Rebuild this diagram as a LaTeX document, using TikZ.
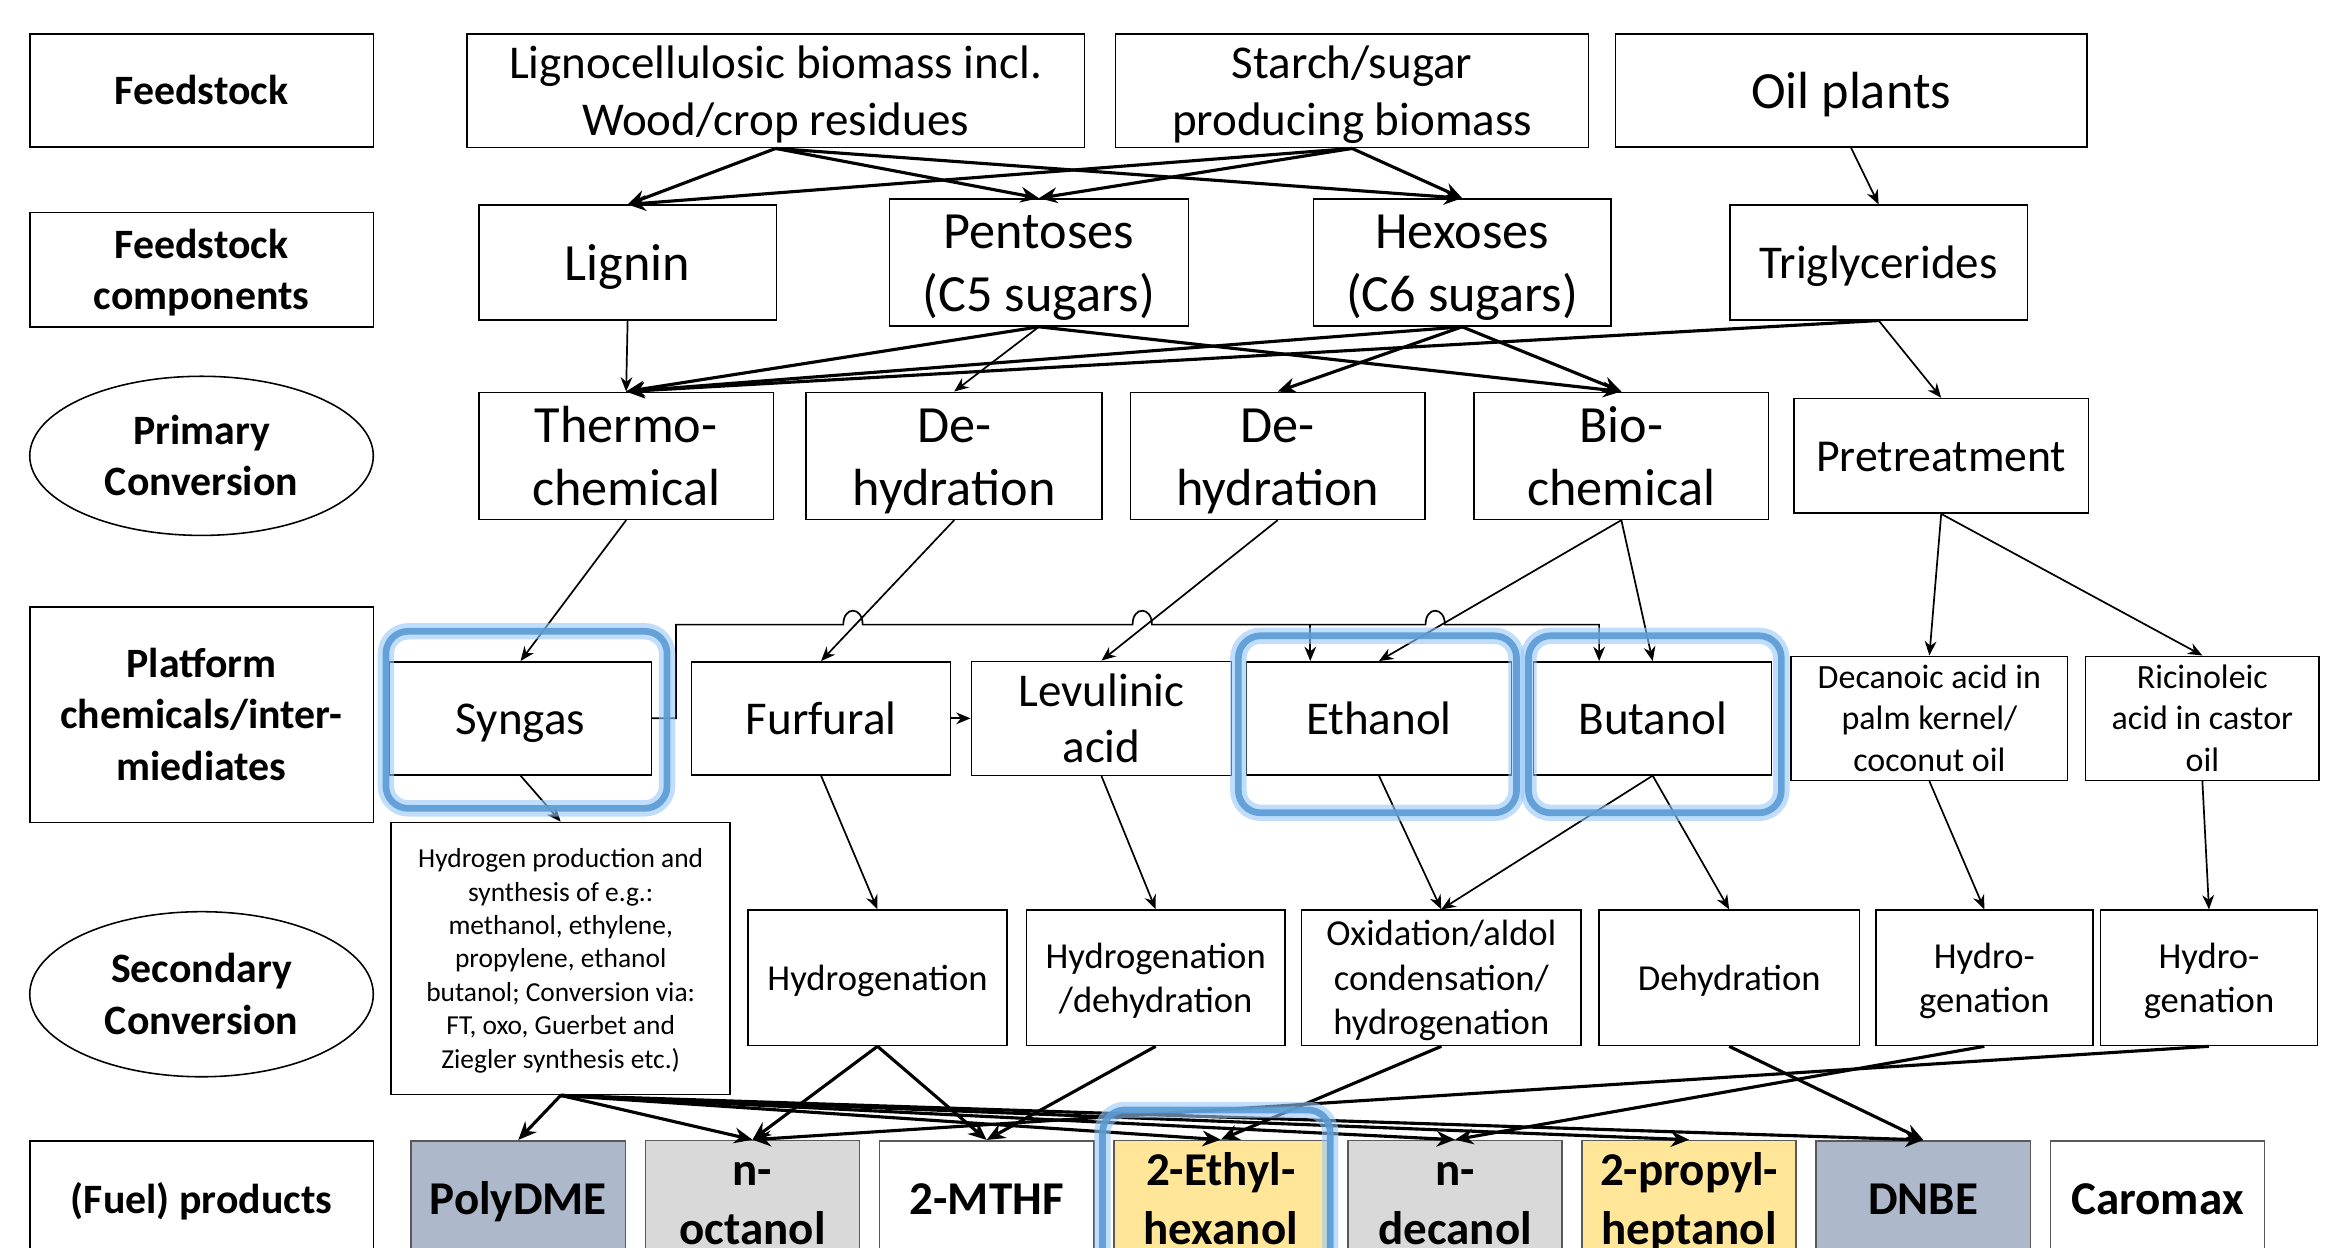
\documentclass[tikz,border=0pt]{standalone}
\usepackage{fontspec}
\setmainfont{Carlito}
\usepackage{tikz}
\usetikzlibrary{shapes.geometric, arrows.meta, positioning}
\definecolor{hlblue}{RGB}{91,155,213}
\definecolor{hlglow}{RGB}{150,200,248}
\definecolor{prodblue}{RGB}{173,185,202}
\definecolor{prodgray}{RGB}{217,217,217}
\definecolor{prodyellow}{RGB}{255,230,153}
% line box of the font, put in the first line of every text
\newcommand{\linestrut}{\rule[-0.269em]{0pt}{1.221em}}
\tikzset{
  box/.style={
    draw, rectangle, inner sep=0pt, align=center,
    line width=0.6pt, font=\fontsize{18}{21.6}\selectfont,
    execute at begin node=\linestrut, execute at end node=\linestrut
  },
  bigbox/.style={box, font=\fontsize{20}{24.2}\selectfont},
  smallbox/.style={box, font=\fontsize{13}{15.8}\selectfont},
  procbox/.style={box, minimum height=1.82cm, font=\fontsize{14}{17}\selectfont},
  rowlabel/.style={
    draw, rectangle, minimum width=4.62cm, inner sep=0pt, align=center,
    line width=0.6pt, font=\bfseries\fontsize{16}{19.6}\selectfont,
    execute at begin node=\linestrut, execute at end node=\linestrut
  },
  rowellipse/.style={rowlabel, ellipse},
  product/.style={
    draw=black!65, rectangle, minimum width=2.88cm, minimum height=1.56cm,
    inner sep=0pt, align=center, line width=0.6pt,
    font=\bfseries\fontsize{18}{22.6}\selectfont,
    execute at begin node=\linestrut, execute at end node=\linestrut
  },
  arrow/.style={-{Stealth[length=7pt, width=6pt]}, line width=1.2pt},
  thinarrow/.style={-{Stealth[length=5.5pt, width=4.5pt]}, line width=0.65pt},
  glow/.style={draw=hlglow, line width=0.22cm, rounded corners=0.3cm, opacity=0.6},
  highlight/.style={draw=hlblue, line width=0.09cm, rounded corners=0.3cm, opacity=0.9}
}

\begin{document}
\begin{tikzpicture}
  \useasboundingbox (0,0) rectangle (31.36,-16.78);
  \clip (0,0) rectangle (31.36,-16.78);

  % Row labels
  \node[rowlabel, minimum height=1.52cm] (lblfeed) at (2.71,-1.22) {Feedstock};
  \node[rowlabel, minimum height=1.54cm] (lblcomp) at (2.71,-3.63) {\linestrut Feedstock\\components};
  \node[rowellipse, minimum height=2.14cm] (lblprim) at (2.71,-6.13) {\linestrut Primary\\Conversion};
  \node[rowlabel, minimum height=2.9cm] (lblplat) at (2.71,-9.61) {\linestrut Platform\\chemicals/inter-\\miediates};
  \node[rowellipse, minimum height=2.22cm] (lblsec) at (2.71,-13.37) {\linestrut Secondary\\Conversion};
  \node[rowlabel, minimum height=1.56cm] (lblprod) at (2.71,-16.12) {(Fuel) products};

  % Feedstock
  \node[box, minimum width=8.3cm, minimum height=1.52cm, right=1.24cm of lblfeed] (ligno)
    {\linestrut Lignocellulosic biomass incl.\\Wood/crop residues};
  \node[box, minimum width=6.36cm, minimum height=1.52cm, right=0.4cm of ligno] (starch)
    {\linestrut Starch/sugar\\producing biomass};
  \node[bigbox, minimum width=6.34cm, minimum height=1.52cm, right=0.34cm of starch] (oil) {Oil plants};

  % Feedstock components
  \node[bigbox, minimum width=4cm, minimum height=1.54cm] (lignin) at (8.44,-3.53) {Lignin};
  \node[bigbox, minimum width=4.02cm, minimum height=1.54cm, right=1.5cm of lignin] (pentoses)
    {\linestrut Pentoses\\(C5 sugars)};
  \node[bigbox, minimum width=4cm, minimum height=1.54cm, right=1.66cm of pentoses] (hexoses)
    {\linestrut Hexoses\\(C6 sugars)};
  \node[box, minimum width=4cm, minimum height=1.54cm, right=1.58cm of hexoses] (trigly) {Triglycerides};

  % Primary conversion
  \node[bigbox, minimum width=3.96cm, minimum height=1.54cm] (thermo) at (8.42,-6.13) {\linestrut Thermo-\\chemical};
  \node[bigbox, minimum width=3.98cm, minimum height=1.54cm, right=0.42cm of thermo] (dehydA) {\linestrut De-\\hydration};
  \node[bigbox, minimum width=3.96cm, minimum height=1.54cm, right=0.36cm of dehydA] (dehydB) {\linestrut De-\\hydration};
  \node[bigbox, minimum width=3.96cm, minimum height=1.54cm, right=0.64cm of dehydB] (bio) {\linestrut Bio-\\chemical};
  \node[box, minimum width=3.96cm, minimum height=1.54cm, right=0.32cm of bio,
        font=\fontsize{17.5}{21.4}\selectfont] (pretreat) {Pretreatment};

  % Platform chemicals
  \node[box, minimum width=3.52cm, minimum height=1.52cm] (syngas) at (7.0,-9.66) {Syngas};
  \node[box, minimum width=3.48cm, minimum height=1.52cm, right=0.52cm of syngas] (furfural) {Furfural};
  \node[box, minimum width=3.5cm, minimum height=1.52cm, right=0.26cm of furfural] (levulinic)
    {\linestrut Levulinic\\acid};
  \node[box, minimum width=3.56cm, minimum height=1.52cm, right=0.18cm of levulinic] (ethanol) {Ethanol};
  \node[box, minimum width=3.2cm, minimum height=1.52cm, right=0.28cm of ethanol] (butanol) {Butanol};
  \node[smallbox, minimum width=3.72cm, minimum height=1.52cm, right=0.24cm of butanol] (decanoic)
    {\linestrut Decanoic acid in\\palm kernel/\\coconut oil};
  \node[smallbox, minimum width=3.14cm, minimum height=1.52cm, right=0.22cm of decanoic] (ricinoleic)
    {\linestrut Ricinoleic\\acid in castor\\oil};

  % Secondary conversion
  \node[box, minimum width=4.56cm, minimum height=3.66cm, font=\fontsize{10.5}{12.8}\selectfont] (hydrogen)
    at (7.54,-12.89)
    {\linestrut Hydrogen production and\\synthesis of e.g.:\\methanol, ethylene,\\propylene, ethanol\\butanol; Conversion via:\\FT, oxo, Guerbet and\\Ziegler synthesis etc.)};
  \node[procbox, minimum width=3.48cm] (hydrog) at (11.8,-13.15) {Hydrogenation};
  \node[procbox, minimum width=3.48cm, right=0.24cm of hydrog] (hyddehyd) {\linestrut Hydrogenation\\/dehydration};
  \node[procbox, minimum width=3.76cm, right=0.2cm of hyddehyd] (oxidation)
    {\linestrut Oxidation/aldol\\condensation/\\hydrogenation};
  \node[procbox, minimum width=3.5cm, right=0.22cm of oxidation] (dehydration) {Dehydration};
  \node[procbox, minimum width=2.92cm, right=0.2cm of dehydration] (hydroA) {\linestrut Hydro-\\genation};
  \node[procbox, minimum width=2.92cm, right=0.08cm of hydroA] (hydroB) {\linestrut Hydro-\\genation};

  % (Fuel) products
  \foreach \name/\txt/\col [count=\i from 0] in {
      polydme/PolyDME/prodblue, noctanol/{\linestrut n-\\octanol}/prodgray, mthf/2-MTHF/white,
      ethylhex/{\linestrut 2-Ethyl-\\hexanol}/prodyellow, ndecanol/{\linestrut n-\\decanol}/prodgray,
      propylhep/{\linestrut 2-propyl-\\heptanol}/prodyellow, dnbe/DNBE/prodblue, caromax/Caromax/white}
    \node[product, fill=\col] (\name) at ({6.97+3.149*\i},-16.12) {\txt};

  % Feedstock -> components
  \foreach \src in {ligno, starch}
    \foreach \dst in {lignin, pentoses, hexoses}
      \draw[arrow] (\src.south) -- (\dst.north);
  \draw[thinarrow] (oil.south) -- (trigly.north);

  % Components -> primary conversion
  \draw[thinarrow] (lignin.south) -- (thermo.north);
  \draw[arrow] (pentoses.south) -- (thermo.north);
  \draw[thinarrow] (pentoses.south) -- (dehydA.north);
  \draw[arrow] (pentoses.south) -- (bio.north);
  \draw[arrow] (hexoses.south) -- (thermo.north);
  \draw[arrow] (hexoses.south) -- (dehydB.north);
  \draw[arrow] (hexoses.south) -- (bio.north);
  \draw[arrow] (trigly.south) -- (thermo.north);
  \draw[thinarrow] (trigly.south) -- (pretreat.north);

  % Primary conversion -> platform chemicals
  \draw[thinarrow] (thermo.south) -- (syngas.north);
  \draw[thinarrow] (dehydA.south) -- (furfural.north);
  \draw[thinarrow] (dehydB.south) -- (levulinic.north);
  \draw[thinarrow] (bio.south) -- (ethanol.north);
  \draw[thinarrow] (bio.south) -- (butanol.north);
  \draw[thinarrow] (pretreat.south) -- (decanoic.north);
  \draw[thinarrow] (pretreat.south) -- (ricinoleic.north);
  \draw[thinarrow] (furfural) -- (levulinic);

  % Syngas line to ethanol and butanol, hopping over crossings
  \draw[thinarrow] (syngas.east) -- ++(0.32,0) |- (11.34,-8.40)
    .. controls +(0,0.25) and +(0,0.25) .. (11.6,-8.40)
    -- (15.23,-8.40) .. controls +(0,0.25) and +(0,0.25) .. (15.49,-8.40)
    -- (17.62,-8.40) coordinate (tapeth)
    -- (19.17,-8.40) .. controls +(0,0.25) and +(0,0.25) .. (19.43,-8.40)
    -| ([xshift=-0.72cm]butanol.north);
  \draw[thinarrow] (tapeth) -- (tapeth |- ethanol.north);

  % Platform chemicals -> secondary conversion
  \draw[thinarrow] (syngas.south) -- (hydrogen.north);
  \draw[thinarrow] (furfural.south) -- (hydrog.north);
  \draw[thinarrow] (levulinic.south) -- (hyddehyd.north);
  \draw[thinarrow] (ethanol.south) -- (oxidation.north);
  \draw[thinarrow] (butanol.south) -- (oxidation.north);
  \draw[thinarrow] (butanol.south) -- (dehydration.north);
  \draw[thinarrow] (decanoic.south) -- (hydroA.north);
  \draw[thinarrow] (ricinoleic.south) -- (hydroB.north);

  % Secondary conversion -> products
  \foreach \dst in {polydme, noctanol, ethylhex, ndecanol, propylhep, dnbe}
    \draw[arrow] (hydrogen.south) -- (\dst.north);
  \draw[arrow] (hydrog.south) -- (noctanol.north);
  \draw[arrow] (hydrog.south) -- (mthf.north);
  \draw[arrow] (hyddehyd.south) -- (mthf.north);
  \draw[arrow] (oxidation.south) -- (ethylhex.north);
  \draw[arrow] (dehydration.south) -- (dnbe.north);
  \draw[arrow] (hydroA.south) -- (ndecanol.north);
  \draw[arrow] (hydroB.south) -- (noctanol.north);

  % Highlights
  \foreach \nd/\nwx/\nwy/\sex/\sey in {syngas/-0.04/0.40/0.20/-0.44,
      ethanol/-0.10/0.34/0.06/-0.50, butanol/-0.06/0.34/0.12/-0.50,
      ethylhex/-0.14/0.40/0.02/-0.60} {
    \draw[glow] ([shift={(\nwx,\nwy)}]\nd.north west) rectangle ([shift={(\sex,\sey)}]\nd.south east);
    \draw[highlight] ([shift={(\nwx,\nwy)}]\nd.north west) rectangle ([shift={(\sex,\sey)}]\nd.south east);
  }
\end{tikzpicture}
\end{document}
